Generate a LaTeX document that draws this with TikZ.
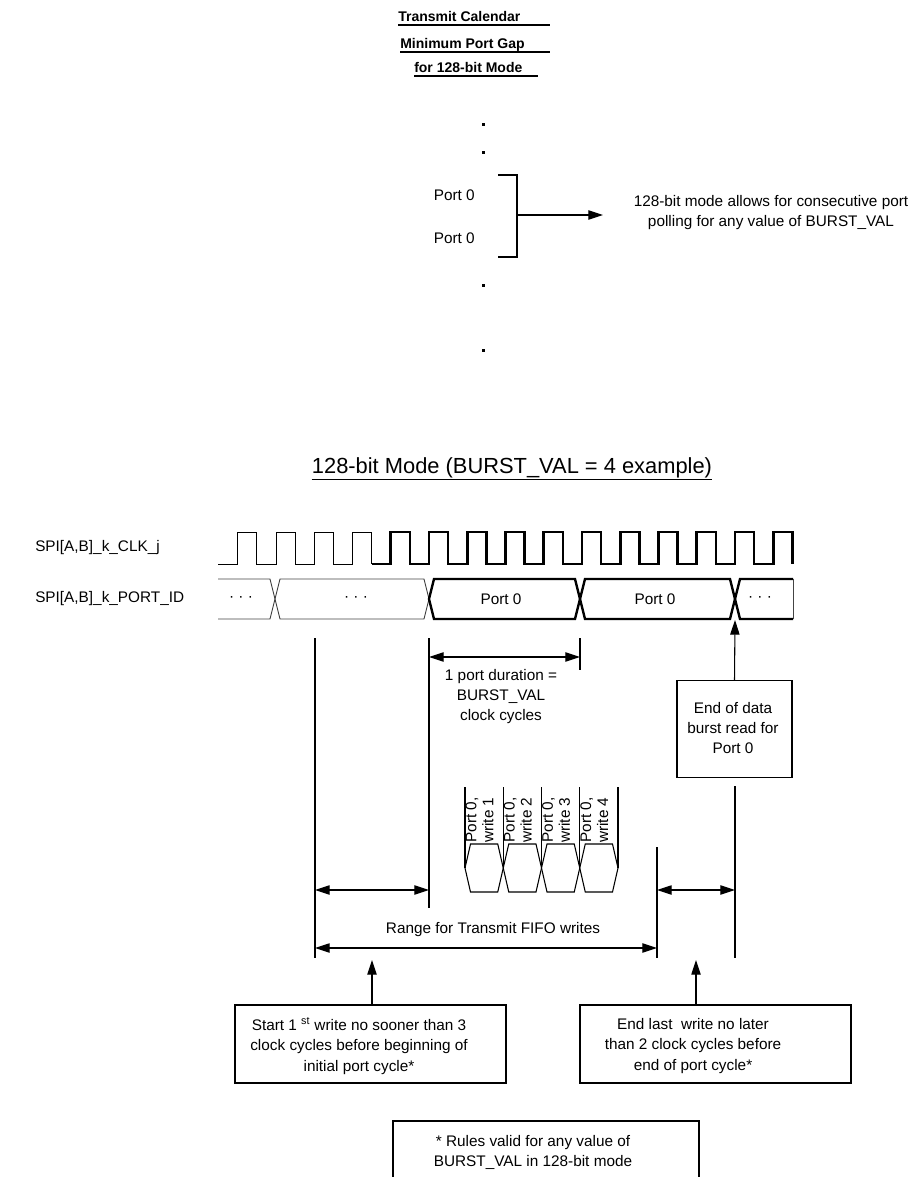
\documentclass[tikz,border=0pt]{standalone}
\usepackage{fontspec}
\setmainfont{Liberation Sans}
\usetikzlibrary{arrows.meta}
\definecolor{ink}{HTML}{000000}
\definecolor{grey}{HTML}{444444}
\newdimen\pxu
\pxu=0.75pt
\tikzset{
  line/.style={draw=ink, line width=0.8pt},
  clkthin/.style={draw=ink, line width=0.7pt},
  clkthick/.style={draw=ink, line width=1.9pt},
  busthin/.style={draw=grey, line width=0.7pt},
  busthick/.style={draw=ink, line width=1.8pt},
  dimarrow/.style={line, {Triangle[length=11pt,width=7pt]}-{Triangle[length=11pt,width=7pt]}},
  uparrow/.style={line, -{Triangle[length=11pt,width=7pt]}},
  lbl/.style={text=ink, font=\fontsize{11.5}{15}\selectfont, inner sep=0pt},
  clbl/.style={lbl, align=center},
  ttl/.style={text=ink, font=\fontsize{10.5}{12}\selectfont\bfseries, inner sep=0pt, anchor=base west},
  box/.style={draw=ink, line width=0.8pt, inner sep=0pt},
  dot/.style={rectangle, fill=ink, inner sep=0pt, minimum size=3\pxu}
}

\begin{document}
\begin{tikzpicture}[x=0.75pt, y=-0.75pt]
  \useasboundingbox (0,0) rectangle (912,1177);

  % calendar heading
  \node[ttl] (t1) at (398,22) {Transmit Calendar};
  \node[ttl] (t2) at (400,49) {Minimum Port Gap};
  \node[ttl] (t3) at (414,73) {for 128-bit Mode};
  \draw[line] (398,25) -- (550,25);
  \draw[line] (400,52) -- (550,52);
  \draw[line] (414,76) -- (538,76);

  \foreach \y [count=\i] in {125,153,285,350}
    \node[dot] (d\i) at (483,\y) {};

  \node[lbl, anchor=east] (p1) at (475,195) {Port 0};
  \node[lbl, anchor=east] (p2) at (475,238) {Port 0};
  \draw[line] (498,175) -- (517,175) -- (517,257) -- (498,257);
  \coordinate (brk) at (517,215);
  \coordinate (tip) at (603,215);
  \draw[uparrow] (brk) -- (tip);
  \node[clbl] (rule) at (771,213) {128-bit mode allows for consecutive port\\polling for any value of BURST\_VAL};

  % timing
  \node[text=ink, font=\fontsize{16.4}{18}\selectfont, inner sep=0pt] (sub) at (512,468)
    {128-bit Mode (BURST\_VAL = 4 example)};
  \draw[line] ([yshift=-4.5pt]sub.base west) -- ([yshift=-4.5pt]sub.base east);

  \node[lbl, anchor=west] (clk) at (35,548) {SPI[A,B]\_k\_CLK\_j};
  \node[lbl, anchor=west] (pid) at (35,599) {SPI[A,B]\_k\_PORT\_ID};

  \draw[clkthin] (218,564) \foreach \k in {0,...,3}{
    -- ({429+38.25*(\k-5)},564) -- ++(0,-32) -- ++(19.125,0) -- ++(0,32) };
  \draw[clkthick] (371.6,564) \foreach \k in {4,...,14}{
    -- ({429+38.25*(\k-5)},564) -- ++(0,-32) -- ++(19.125,0) -- ++(0,32) };

  \draw[busthin] (218,579) -- (270,579) -- (275,599) -- (270,619) -- (218,619);
  \draw[busthin] (275,599) -- (280,579) -- (424,579) -- (429,599) -- (424,619) -- (280,619) -- cycle;
  \draw[busthick] (429,599) -- (434,579) -- (575,579) -- (580,599) -- (575,619) -- (434,619) -- cycle;
  \draw[busthick] (580,599) -- (585,579) -- (730,579) -- (735,599) -- (730,619) -- (585,619) -- cycle;
  \draw[busthick] (793,579) -- (740,579) -- (735,599) -- (740,619) -- (793,619);
  \draw[busthin] (793,579) -- (793,619);

  \node[lbl] (b1) at (241,599) {· · ·};
  \node[lbl] (b2) at (356,599) {· · ·};
  \node[lbl] (b3) at (501,599) {Port 0};
  \node[lbl] (b4) at (655,599) {Port 0};
  \node[lbl] (b5) at (760,599) {· · ·};

  % port duration
  \draw[line] (315,638) -- (315,958);
  \draw[line] (429,638) -- (429,908);
  \draw[line] (580,638) -- (580,670);
  \coordinate (pa) at (429,657);
  \coordinate (pb) at (580,657);
  \draw[dimarrow] (pa) -- (pb);
  \node[clbl] (dur) at (501,697) {1 port duration =\\BURST\_VAL\\clock cycles};

  \node[box, minimum width=115\pxu, minimum height=97\pxu] (eod) at (734.5,729) {};
  \node[clbl] (eodt) at (733,728) {End of data\\burst read for\\Port 0};
  \coordinate (cross) at (735,620);
  \draw[uparrow] (eod.north) -- (cross);

  % fifo writes
  \foreach \k in {1,...,4}{
    \pgfmathsetmacro\xl{465+38.25*(\k-1)}
    \pgfmathsetmacro\xr{\xl+38.25}
    \draw[line] (\xl,787) -- (\xl,868);
    \draw[line] (\xl,868) -- (\xl+5.5,844) -- (\xr-5.5,844) -- (\xr,868)
      -- (\xr-5.5,892) -- (\xl+5.5,892) -- cycle;
    \node[lbl, font=\fontsize{11.5}{12.75}\selectfont, rotate=90, anchor=north west, align=left]
      (w\k) at (\xl+0.4,843) {Port 0,\\write \k};
  }
  \draw[line] (618,787) -- (618,868);

  \draw[line] (657,847) -- (657,958);
  \draw[line] (735,786) -- (735,958);

  \coordinate (s1) at (315,890);
  \coordinate (s2) at (429,890);
  \coordinate (e1) at (657,890);
  \coordinate (e2) at (735,890);
  \draw[dimarrow] (s1) -- (s2);
  \draw[dimarrow] (e1) -- (e2);

  \node[lbl] (rng) at (493,930) {Range for Transmit FIFO writes};
  \coordinate (r1) at (315,948);
  \coordinate (r2) at (657,948);
  \draw[dimarrow] (r1) -- (r2);

  \node[box, minimum width=271\pxu, minimum height=78\pxu] (start) at (370.5,1044) {};
  \node[clbl, font=\fontsize{11.5}{15.5}\selectfont] (startt) at (359,1046)
    {Start 1 \textsuperscript{st} write no sooner than 3\\clock cycles before beginning of\\initial port cycle*};
  \node[box, minimum width=271\pxu, minimum height=78\pxu] (end) at (715.5,1044) {};
  \node[clbl, font=\fontsize{11.5}{15.5}\selectfont] (endt) at (693,1046)
    {End last \ write no later\\than 2 clock cycles before\\end of port cycle*};
  \coordinate (su) at (372,960);
  \coordinate (eu) at (696,960);
  \draw[uparrow] (start.north -| su) -- (su);
  \draw[uparrow] (end.north -| eu) -- (eu);

  \draw[line] (393,1177) -- (393,1121) -- (699,1121) -- (699,1177);
  \node[clbl] (valid) at (533,1152) {* Rules valid for any value of\\BURST\_VAL in 128-bit mode};
\end{tikzpicture}
\end{document}
